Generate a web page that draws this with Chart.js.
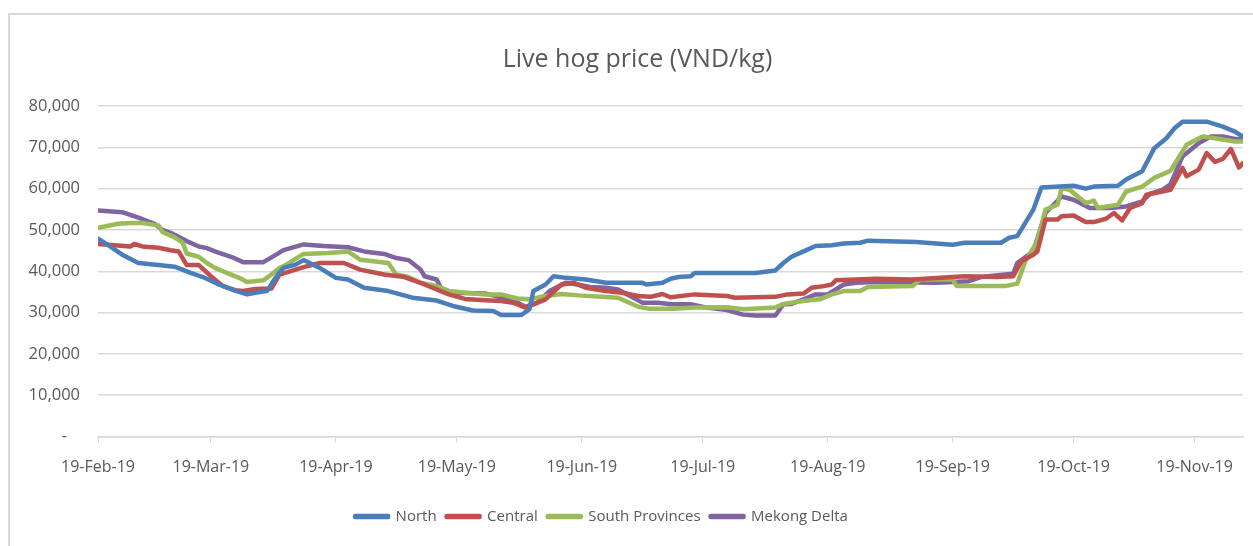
<!DOCTYPE html>
<html>
<head>
<meta charset="utf-8">
<script src="https://cdn.jsdelivr.net/npm/chart.js@4.4.1/dist/chart.umd.min.js"></script>
<style>
	body { margin: 0; background: #fff; overflow: hidden; }
	#wrap { position: relative; width: 1253px; height: 546px; overflow: hidden; }
	#frame { position: absolute; left: 8px; top: 13px; width: 1300px; height: 600px; border-left: 2px solid #d9d9d9; border-top: 2px solid #d9d9d9; }
	canvas { position: absolute; left: 0; top: 0; }
</style>
</head>
<body>
<div id="wrap">
	<div id="frame"></div>
	<canvas id="HogChart" width="1253" height="546"></canvas>
</div>
<script>

// x values are days counted from 19-Feb-19
const tickDays   = [0, 28, 59, 89, 120, 150, 181, 212, 242, 272];
const tickLabels = ["19-Feb-19", "19-Mar-19", "19-Apr-19", "19-May-19", "19-Jun-19",
	"19-Jul-19", "19-Aug-19", "19-Sep-19", "19-Oct-19", "19-Nov-19"];
const lastDay = 284; // 30-Nov-19

const northDays = [0,3,6,10,15,19,23,26,30,34,37,39,42,44,46,49,51,55,59,62,66,72,75,78,84,88,93,98,100,105,107,108,111,113,116,121,126,135,136,140,142,144,147,148,163,168,170,172,175,178,182,185,189,191,203,212,215,224,226,228,232,234,242,245,247,253,255,259,262,265,267,269,275,277,279,282,284];
const northPrices = [47900,46000,44000,42000,41500,41100,39600,38600,36800,35300,34400,34800,35300,38400,40800,41600,42700,40800,38400,38000,36000,35200,34400,33600,32900,31600,30500,30400,29400,29400,30800,35200,36800,38800,38400,38000,37200,37200,36800,37200,38200,38600,38800,39600,39600,40200,42000,43500,44800,46100,46300,46700,46900,47400,47100,46400,46900,46900,48100,48500,54900,60300,60700,60000,60500,60700,62200,64200,69800,72200,74600,76200,76200,75600,75000,73800,72600];

const centralDays = [0,8,9,11,15,18,20,22,25,28,31,34,36,39,43,45,46,51,55,61,65,71,76,81,87,91,96,100,103,106,111,115,118,121,126,130,134,137,140,142,148,156,158,168,171,175,177,180,182,183,193,202,212,215,223,227,229,232,233,235,238,239,242,245,247,250,252,254,256,259,260,264,266,269,270,273,275,277,279,281,283,284];
const centralPrices = [46600,46000,46600,46000,45700,45100,44800,41500,41500,38800,36400,35400,35200,35700,35800,39200,39500,41000,42000,42000,40400,39200,38600,36800,34400,33300,33000,32800,32400,31200,33200,36800,37200,36000,35200,34800,34000,33800,34500,33700,34400,34000,33600,33800,34400,34600,36000,36400,36800,37800,38200,38000,38600,38800,38600,38800,42400,44000,44800,52500,52500,53300,53500,51900,51900,52700,54100,52300,55300,56500,58500,59300,59700,65000,63000,64600,68600,66500,67200,69600,65100,66200];

const southDays = [0,5,8,11,15,16,19,21,22,25,27,29,33,35,37,41,43,45,46,51,57,62,65,72,74,77,80,84,87,96,100,104,107,111,115,120,125,129,134,137,143,148,156,160,168,170,175,179,182,185,189,191,202,204,212,213,225,228,230,233,235,238,239,241,245,247,248,253,255,259,262,266,268,270,274,277,282,284];
const southPrices = [50500,51500,51700,51700,51100,49500,48200,46900,44300,43500,42000,40800,39200,38400,37400,37800,39200,40800,41200,44200,44400,44800,42800,42000,39200,38600,37200,36400,35200,34400,34400,33400,33200,34000,34500,34100,33800,33600,31400,30900,30900,31200,31300,30800,31200,32100,32800,33200,34400,35200,35200,36200,36400,38000,38000,36400,36400,37000,42400,47300,54900,56100,60100,59700,56500,57100,55300,56100,59300,60500,62600,64300,67400,70600,72600,72200,71400,71400];

const mekongDays = [0,6,10,14,16,18,22,25,27,29,33,36,41,44,46,51,56,62,66,71,74,77,80,81,84,85,88,96,97,100,103,106,109,112,116,119,122,126,129,132,135,139,142,147,151,156,160,163,168,170,172,175,178,181,185,188,193,208,216,219,225,227,228,232,235,239,242,246,251,255,259,261,264,266,269,273,276,279,282,284];
const mekongPrices = [54700,54300,53000,51500,50000,49300,47300,46000,45600,44800,43500,42200,42200,43900,45100,46500,46100,45800,44800,44200,43200,42700,40400,38800,38000,36000,34800,34600,34400,33600,32900,31400,32400,35200,37200,36800,36200,36000,35600,34000,32400,32400,32000,32000,31200,30600,29500,29300,29300,32000,32100,33200,34400,34400,36800,37200,37400,37200,37600,38600,39200,39400,42000,44800,54100,58100,57300,55300,55300,55700,56900,58800,59700,61000,67800,71000,72600,72600,72000,72000];


const FONT = "'Open Sans', sans-serif";
const TEXT_COLOR = "#595959";
const GRID_COLOR = "#d9d9d9";

function makeSeries(label, days, prices, color) {
	return {
		label: label,
		data: days.map((d, i) => ({ x: d, y: prices[i] })),
		borderColor: color,
		backgroundColor: color,
		borderWidth: 4.5,
		pointRadius: 0,
		tension: 0,
		borderCapStyle: "round",
		borderJoinStyle: "round",
	};
}

// the title sits a bit right of centre and the legend a bit left in the original
const nudgeBoxes = {
	id: "nudgeBoxes",
	afterLayout(chart) {
		chart.titleBlock.left += 32;
		chart.legend.left -= 20;
		chart.legend.right -= 20;
	},
};

new Chart(document.getElementById("HogChart"), {
	type: "line",
	plugins: [nudgeBoxes],
	data: {
		datasets: [
			makeSeries("North", northDays, northPrices, "#4a7ebb"),
			makeSeries("Central", centralDays, centralPrices, "#c0504d"),
			makeSeries("South Provinces", southDays, southPrices, "#9bbb59"),
			makeSeries("Mekong Delta", mekongDays, mekongPrices, "#8064a2"),
		],
	},
	options: {
		responsive: false,
		animation: false,
		layout: {
			padding: { left: 0, right: 10, top: 0, bottom: 12 },
		},
		plugins: {
			title: {
				display: true,
				text: "Live hog price (VND/kg)",
				color: TEXT_COLOR,
				font: { family: FONT, size: 25, weight: "normal" },
				padding: { top: 45, bottom: 31 },
			},
			legend: {
				position: "bottom",
				labels: {
					color: TEXT_COLOR,
					font: { family: FONT, size: 15 },
					boxWidth: 33,
					boxHeight: 1,
					padding: 10,
				},
			},
			tooltip: { enabled: false },
		},
		scales: {
			x: {
				type: "linear",
				min: 0,
				max: lastDay,
				afterBuildTicks: (scale) => {
					scale.ticks = tickDays.map((v) => ({ value: v }));
				},
				afterFit: (scale) => {
					scale.height = 62.5;
				},
				ticks: {
					autoSkip: false,
					maxRotation: 0,
					color: TEXT_COLOR,
					font: { family: FONT, size: 16 },
					padding: 15,
					callback: (value) => tickLabels[tickDays.indexOf(value)],
				},
				grid: {
					drawOnChartArea: false,
					drawTicks: true,
					tickLength: 6,
					tickColor: GRID_COLOR,
				},
				border: { display: true, color: GRID_COLOR, width: 1.5 },
			},
			y: {
				min: 0,
				max: 80000,
				afterFit: (scale) => {
					scale.width = 98;
				},
				ticks: {
					stepSize: 10000,
					color: TEXT_COLOR,
					font: { family: FONT, size: 16.5 },
					padding: 18,
					callback: (value) => value === 0 ? "-   " : value.toLocaleString("en-US"),
				},
				grid: {
					color: GRID_COLOR,
					lineWidth: 1.5,
					drawTicks: false,
				},
				border: { display: false },
			},
		},
	},
});
</script>
</body>
</html>
